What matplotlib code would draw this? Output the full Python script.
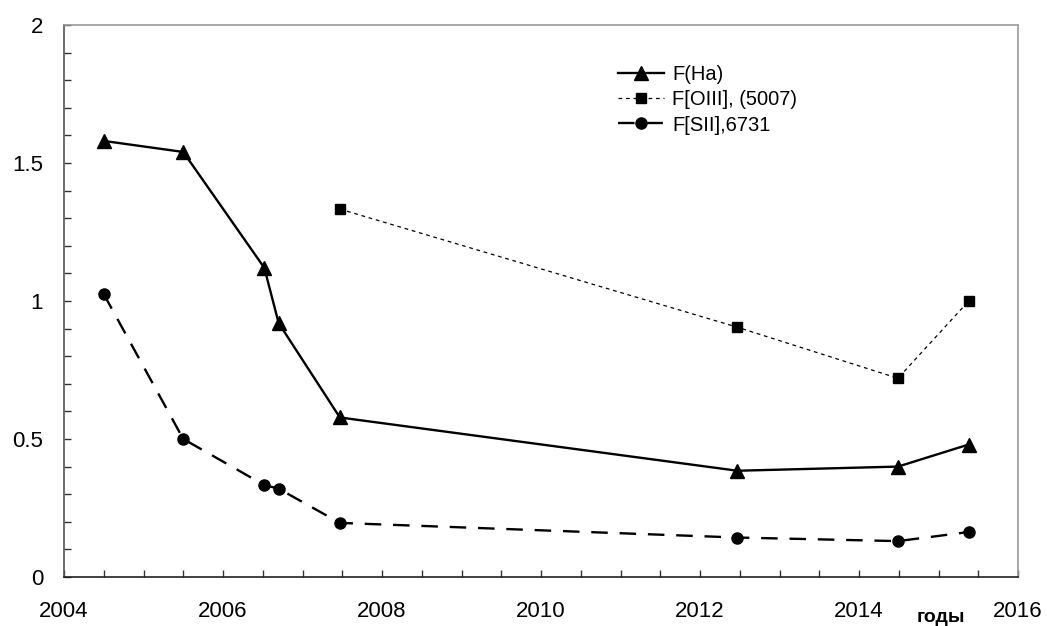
import matplotlib.pyplot as plt
from matplotlib.ticker import MultipleLocator, FuncFormatter

plt.rcParams['font.family'] = ['Liberation Sans', 'DejaVu Sans']

# observation epochs (years)
years = [2004.5, 2005.5, 2006.52, 2006.7, 2007.47, 2012.47, 2014.49, 2015.38]
f_ha = [1.58, 1.54, 1.12, 0.92, 0.578, 0.385, 0.40, 0.48]
years_oiii = [2007.47, 2012.47, 2014.49, 2015.38]
f_oiii = [1.333, 0.905, 0.72, 1.0]
f_sii = [1.025, 0.50, 0.333, 0.32, 0.196, 0.143, 0.13, 0.163]

fig = plt.figure(figsize=(10.47, 6.26), dpi=100)
ax = fig.add_axes([64 / 1047, 1 - 577 / 626, (1018 - 64) / 1047, (577 - 25) / 626])

ax.plot(years, f_ha, color='black', lw=1.7, marker='^', ms=9.5, label='F(Ha)')
ax.plot(years_oiii, f_oiii, color='black', lw=0.9, ls=(0, (3, 3)), marker='s', ms=7,
        label='F[OIII], (5007)')
ax.plot(years, f_sii, color='black', lw=1.7, ls=(0, (7, 5)), marker='o', ms=8,
        label='F[SII],6731')

ax.set_xlim(2004, 2016)
ax.set_ylim(0, 2)
ax.xaxis.set_major_locator(MultipleLocator(2))
ax.xaxis.set_minor_locator(MultipleLocator(0.5))
ax.yaxis.set_major_locator(MultipleLocator(0.5))
ax.yaxis.set_minor_locator(MultipleLocator(0.1))
ax.yaxis.set_major_formatter(FuncFormatter(lambda v, p: f'{v:g}'))

ax.tick_params(axis='both', which='both', direction='in', length=5, width=1,
               labelsize=16, color='#333333')
ax.tick_params(axis='x', which='major', pad=17.5)
ax.tick_params(axis='y', which='major', pad=15)

ax.spines['bottom'].set_color('#222222')
ax.spines['left'].set_color('#555555')
ax.spines['top'].set_color('#999999')
ax.spines['right'].set_color('#999999')
for s in ax.spines.values():
    s.set_linewidth(1.2)

fig.text(941 / 1047, 1 - 622 / 626, 'годы', fontsize=14, fontweight='bold',
         ha='center', va='baseline')

leg = ax.legend(loc='upper left', bbox_to_anchor=(0.57, 0.945), frameon=False,
                fontsize=14.5, handlelength=2.3, labelspacing=0.3, handletextpad=0.4,
                borderpad=0)

fig.savefig('out.png', dpi=100)
